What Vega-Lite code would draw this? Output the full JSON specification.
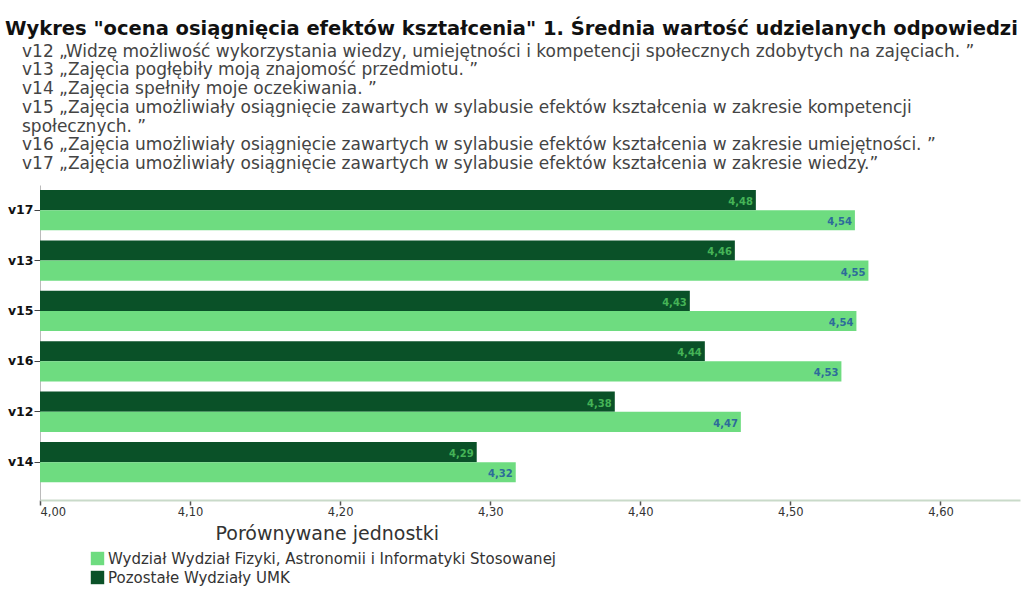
{
  "$schema": "https://vega.github.io/schema/vega-lite/v6.json",
  "width": 980,
  "height": 315,
  "autosize": {"type": "none"},
  "padding": {"left": 40, "top": 185, "right": 2, "bottom": 90},
  "background": "white",
  "config": {
    "view": {"stroke": null},
    "locale": {"number": {"decimal": ",", "thousands": " ", "grouping": [3], "currency": ["", " zł"]}}
  },
  "title": {
    "text": "Wykres \"ocena osiągnięcia efektów kształcenia\" 1. Średnia wartość udzielanych odpowiedzi",
    "subtitle": [
      "\u200b\u2003v12 „Widzę możliwość wykorzystania wiedzy, umiejętności i kompetencji społecznych zdobytych na zajęciach. ”",
      "\u200b\u2003v13 „Zajęcia pogłębiły moją znajomość przedmiotu. ”",
      "\u200b\u2003v14 „Zajęcia spełniły moje oczekiwania. ”",
      "\u200b\u2003v15 „Zajęcia umożliwiały osiągnięcie zawartych w sylabusie efektów kształcenia w zakresie kompetencji",
      "\u200b\u2003społecznych. ”",
      "\u200b\u2003v16 „Zajęcia umożliwiały osiągnięcie zawartych w sylabusie efektów kształcenia w zakresie umiejętności. ”",
      "\u200b\u2003v17 „Zajęcia umożliwiały osiągnięcie zawartych w sylabusie efektów kształcenia w zakresie wiedzy.”"
    ],
    "anchor": "start",
    "frame": "group",
    "dx": -35,
    "offset": 12,
    "font": "DejaVu Sans",
    "fontSize": 19.5,
    "fontWeight": "bold",
    "color": "#111111",
    "subtitleFont": "DejaVu Sans",
    "subtitleFontSize": 17,
    "subtitleColor": "#444444",
    "subtitleLineHeight": 18.7,
    "subtitlePadding": 4
  },
  "data": {
    "values": [
      {"pytanie": "v17", "jednostka": "Pozostałe Wydziały UMK", "srednia": 4.477},
      {"pytanie": "v17", "jednostka": "Wydział Wydział Fizyki, Astronomii i Informatyki Stosowanej", "srednia": 4.543},
      {"pytanie": "v13", "jednostka": "Pozostałe Wydziały UMK", "srednia": 4.463},
      {"pytanie": "v13", "jednostka": "Wydział Wydział Fizyki, Astronomii i Informatyki Stosowanej", "srednia": 4.552},
      {"pytanie": "v15", "jednostka": "Pozostałe Wydziały UMK", "srednia": 4.433},
      {"pytanie": "v15", "jednostka": "Wydział Wydział Fizyki, Astronomii i Informatyki Stosowanej", "srednia": 4.544},
      {"pytanie": "v16", "jednostka": "Pozostałe Wydziały UMK", "srednia": 4.443},
      {"pytanie": "v16", "jednostka": "Wydział Wydział Fizyki, Astronomii i Informatyki Stosowanej", "srednia": 4.534},
      {"pytanie": "v12", "jednostka": "Pozostałe Wydziały UMK", "srednia": 4.383},
      {"pytanie": "v12", "jednostka": "Wydział Wydział Fizyki, Astronomii i Informatyki Stosowanej", "srednia": 4.467},
      {"pytanie": "v14", "jednostka": "Pozostałe Wydziały UMK", "srednia": 4.291},
      {"pytanie": "v14", "jednostka": "Wydział Wydział Fizyki, Astronomii i Informatyki Stosowanej", "srednia": 4.317}
    ]
  },
  "encoding": {
    "y": {
      "field": "pytanie",
      "type": "nominal",
      "sort": ["v17", "v13", "v15", "v16", "v12", "v14"],
      "scale": {"paddingInner": 0.2, "paddingOuter": 0.225, "align": 0.22},
      "axis": {
        "title": null,
        "domainColor": "#bbbbbb",
        "tickColor": "#444444",
        "tickSize": 6,
        "labelFont": "DejaVu Sans",
        "labelFontWeight": "bold",
        "labelFontSize": 12.5,
        "labelColor": "#111111",
        "labelPadding": 1
      }
    },
    "yOffset": {
      "field": "jednostka",
      "sort": ["Pozostałe Wydziały UMK", "Wydział Wydział Fizyki, Astronomii i Informatyki Stosowanej"],
      "scale": {"paddingInner": 0, "paddingOuter": 0}
    },
    "x": {
      "field": "srednia",
      "type": "quantitative",
      "scale": {"domain": [4.0, 4.653], "zero": false, "nice": false},
      "axis": {
        "title": "Porównywane jednostki",
        "format": ".2f",
        "values": [4.0, 4.1, 4.2, 4.3, 4.4, 4.5, 4.6],
        "grid": false,
        "domainColor": "#c9dac9",
        "domainWidth": 2,
        "tickColor": "#555555",
        "tickSize": 5,
        "tickWidth": 1.5,
        "labelFont": "DejaVu Sans",
        "labelFontSize": 11.5,
        "labelColor": "#333333",
        "labelPadding": 1,
        "titleFont": "DejaVu Sans",
        "titleFontSize": 19,
        "titleFontWeight": "normal",
        "titleColor": "#333333",
        "titleAnchor": "start",
        "titleAlign": "left",
        "titleX": 175,
        "titleY": 24
      }
    }
  },
  "layer": [
    {
      "mark": {"type": "bar", "clip": true},
      "encoding": {
        "color": {
          "field": "jednostka",
          "type": "nominal",
          "scale": {
            "domain": ["Wydział Wydział Fizyki, Astronomii i Informatyki Stosowanej", "Pozostałe Wydziały UMK"],
            "range": ["#6edc80", "#0a5128"]
          },
          "legend": {
            "orient": "none",
            "legendX": 50,
            "legendY": 366,
            "title": null,
            "symbolType": "square",
            "symbolSize": 180,
            "symbolStrokeWidth": 0,
            "symbolOpacity": 1,
            "labelFont": "DejaVu Sans",
            "labelFontSize": 15,
            "labelColor": "#333333",
            "labelLimit": 700,
            "labelOffset": 3,
            "rowPadding": 3
          }
        }
      }
    },
    {
      "mark": {"type": "text", "align": "right", "baseline": "middle", "dx": -3, "dy": 2, "font": "DejaVu Sans", "fontSize": 10, "fontWeight": "bold"},
      "encoding": {
        "text": {"field": "srednia", "type": "quantitative", "format": ".2f"},
        "color": {
          "condition": {"test": "datum.jednostka === 'Pozostałe Wydziały UMK'", "value": "#45b457"},
          "value": "#2d6b9a"
        }
      }
    }
  ]
}
